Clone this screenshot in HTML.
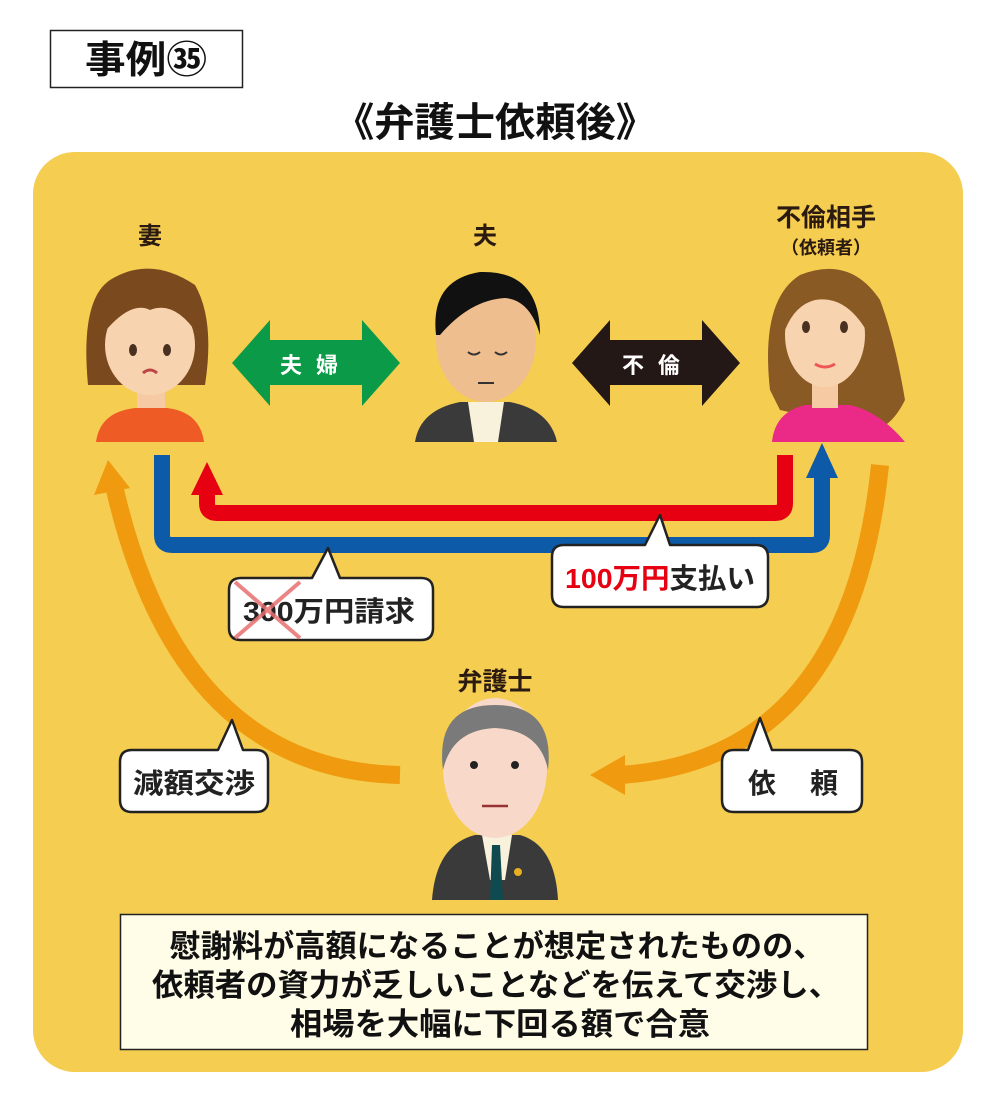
<!DOCTYPE html>
<html><head><meta charset="utf-8"><style>
html,body{margin:0;padding:0;background:#fff;}
svg{display:block;}
text{font-family:"Liberation Sans","Noto Sans CJK JP",sans-serif;font-weight:bold;}
</style></head><body>
<svg width="1000" height="1115" viewBox="0 0 1000 1115" xmlns="http://www.w3.org/2000/svg">
<rect x="50.5" y="30.5" width="192" height="57" fill="#fff" stroke="#222" stroke-width="1.5"/>
<text x="146" y="73" font-size="38" text-anchor="middle" fill="#111" textLength="122" lengthAdjust="spacingAndGlyphs">事例㉟</text>
<text x="495" y="136" font-size="40" text-anchor="middle" fill="#111" textLength="322" lengthAdjust="spacingAndGlyphs">《弁護士依頼後》</text>
<rect x="33" y="152" width="930" height="920" rx="42" fill="#f5cd50"/>

<text x="150" y="244" font-size="24" text-anchor="middle" fill="#2a1a10">妻</text>
<text x="485" y="244" font-size="24" text-anchor="middle" fill="#2a1a10">夫</text>
<text x="826" y="226" font-size="25" text-anchor="middle" fill="#2a1a10">不倫相手</text>
<text x="826" y="254" font-size="18" text-anchor="middle" fill="#2a1a10">（依頼者）</text>
<text x="495" y="690" font-size="25" text-anchor="middle" fill="#2a1a10">弁護士</text>

<g>
<path d="M88 385 Q80 300 110 280 Q150 255 195 285 Q215 320 205 385 Z" fill="#7a4a1e"/>
<rect x="137" y="380" width="28" height="30" fill="#f6cba4"/>
<path d="M96 442 Q100 412 135 408 L167 408 Q200 412 204 442 Z" fill="#ef5b25"/>
<ellipse cx="150" cy="345" rx="45" ry="50" fill="#f8d3b0"/>
<path d="M102 335 Q105 285 150 282 Q195 285 198 335 Q175 300 150 310 Q130 300 102 335Z" fill="#7a4a1e"/>
<ellipse cx="133" cy="350" rx="4" ry="6" fill="#4a3020"/><ellipse cx="167" cy="350" rx="4" ry="6" fill="#4a3020"/>
<path d="M143 373 Q150 367 157 373" stroke="#b44" stroke-width="3" fill="none"/>
</g>
<g>
<path d="M415 442 Q420 410 460 402 L510 402 Q550 410 557 442 Z" fill="#3a3a3a"/>
<path d="M468 402 L504 402 L498 442 L474 442 Z" fill="#f8f2dc"/>
<ellipse cx="486" cy="340" rx="50" ry="62" fill="#eebe8e"/>
<path d="M436 335 Q430 280 480 272 Q540 270 540 335 Q530 300 505 298 Q470 300 440 335Z" fill="#111"/>
<path d="M468 352 Q474 357 480 352 M495 352 Q501 357 507 352" stroke="#333" stroke-width="2" fill="none"/>
<path d="M478 383 L494 383" stroke="#333" stroke-width="2"/>
</g>
<g>
<path d="M770 390 Q760 300 800 275 Q850 255 880 300 Q895 340 905 400 Q890 430 870 430 L780 410Z" fill="#8a5a24"/>
<path d="M772 442 Q775 412 805 405 L850 405 Q880 412 905 442 Z" fill="#ea2a86"/>
<rect x="812" y="380" width="26" height="28" fill="#f6cba4"/>
<ellipse cx="825" cy="335" rx="40" ry="52" fill="#f8d3b0"/>
<path d="M785 330 Q790 280 830 280 Q870 285 866 330 Q845 295 815 300 Q795 305 785 330Z" fill="#8a5a24"/>
<ellipse cx="806" cy="327" rx="4" ry="6" fill="#4a3020"/><ellipse cx="844" cy="327" rx="4" ry="6" fill="#4a3020"/>
<path d="M815 364 Q825 370 835 364" stroke="#e55" stroke-width="3" fill="none"/>
</g>
<g>
<path d="M432 900 Q436 845 475 835 L520 835 Q555 845 558 900 Z" fill="#3a3a3a"/>
<path d="M482 835 L512 835 L505 880 L490 880Z" fill="#f8f2dc"/>
<path d="M492 845 L500 845 L503 900 L490 900Z" fill="#0f4a50"/>
<circle cx="518" cy="872" r="4" fill="#e8b020"/>
<ellipse cx="495" cy="768" rx="52" ry="70" fill="#f8d8c8"/>
<path d="M443 770 Q435 705 495 705 Q555 705 548 770 Q540 730 495 728 Q452 730 443 770Z" fill="#7a7a7a"/>
<circle cx="474" cy="765" r="4" fill="#222"/><circle cx="515" cy="765" r="4" fill="#222"/>
<path d="M482 806 L508 806" stroke="#933" stroke-width="2.5"/>
</g>

<path d="M232 363 L270 320 L270 340 L362 340 L362 320 L400 363 L362 406 L362 385 L270 385 L270 406 Z" fill="#0a9a48"/>
<text x="316" y="373" font-size="22" text-anchor="middle" fill="#fff" letter-spacing="14">夫婦</text>
<path d="M572 363 L610 320 L610 340 L702 340 L702 320 L740 363 L702 406 L702 385 L610 385 L610 406 Z" fill="#231815"/>
<text x="658" y="373" font-size="22" text-anchor="middle" fill="#fff" letter-spacing="14">不倫</text>

<path d="M162 455 L162 535 Q162 545 172 545 L812 545 Q822 545 822 535 L822 475" stroke="#0d5aa8" stroke-width="16" fill="none"/>
<path d="M806 478 L822 443 L838 478Z" fill="#0d5aa8"/>
<path d="M785 455 L785 503 Q785 513 775 513 L217 513 Q207 513 207 503 L207 492" stroke="#e60012" stroke-width="16" fill="none"/>
<path d="M191 495 L207 462 L223 495Z" fill="#e60012"/>

<path d="M400 775 Q180 770 115 490" stroke="#f09a10" stroke-width="18" fill="none"/>
<path d="M94 495 L108 460 L130 488Z" fill="#f09a10"/>
<path d="M880 465 Q850 760 620 775" stroke="#f09a10" stroke-width="18" fill="none"/>
<path d="M625 755 L590 775 L625 795Z" fill="#f09a10"/>

<g stroke="#222" stroke-width="2.5" fill="#fff" stroke-linejoin="round">
<path d="M241 578 L312 578 L328 548 L340 578 L421 578 Q433 578 433 590 L433 628 Q433 640 421 640 L241 640 Q229 640 229 628 L229 590 Q229 578 241 578Z"/>
<path d="M564 545 L645 545 L660 515 L670 545 L756 545 Q768 545 768 557 L768 595 Q768 607 756 607 L564 607 Q552 607 552 595 L552 557 Q552 545 564 545Z"/>
<path d="M132 750 L218 750 L232 720 L243 750 L256 750 Q268 750 268 762 L268 800 Q268 812 256 812 L132 812 Q120 812 120 800 L120 762 Q120 750 132 750Z"/>
<path d="M734 750 L748 750 L760 718 L772 750 L850 750 Q862 750 862 762 L862 800 Q862 812 850 812 L734 812 Q722 812 722 800 L722 762 Q722 750 734 750Z"/>
</g>
<text x="329" y="621" font-size="28" text-anchor="middle" fill="#222" textLength="172" lengthAdjust="spacingAndGlyphs">300万円請求</text>
<path d="M235 582 L300 638 M300 582 L235 638" stroke="#e87070" stroke-width="4" opacity="0.85"/>
<text x="660" y="588" font-size="28" text-anchor="middle" fill="#222" textLength="190" lengthAdjust="spacingAndGlyphs"><tspan fill="#e60012">100万円</tspan>支払い</text>
<text x="194" y="793" font-size="28" text-anchor="middle" fill="#222" textLength="122" lengthAdjust="spacingAndGlyphs">減額交渉</text>
<text x="793" y="793" font-size="28" text-anchor="middle" fill="#222" textLength="90" lengthAdjust="spacing">依頼</text>

<rect x="120.5" y="914.5" width="747" height="135" fill="#fffce8" stroke="#222" stroke-width="1.5"/>
<text x="497" y="957" font-size="31" text-anchor="middle" fill="#111" textLength="655" lengthAdjust="spacingAndGlyphs">慰謝料が高額になることが想定されたものの、</text>
<text x="496" y="996" font-size="31" text-anchor="middle" fill="#111" textLength="688" lengthAdjust="spacingAndGlyphs">依頼者の資力が乏しいことなどを伝えて交渉し、</text>
<text x="500" y="1035" font-size="31" text-anchor="middle" fill="#111" textLength="420" lengthAdjust="spacingAndGlyphs">相場を大幅に下回る額で合意</text>
</svg>
</body></html>
